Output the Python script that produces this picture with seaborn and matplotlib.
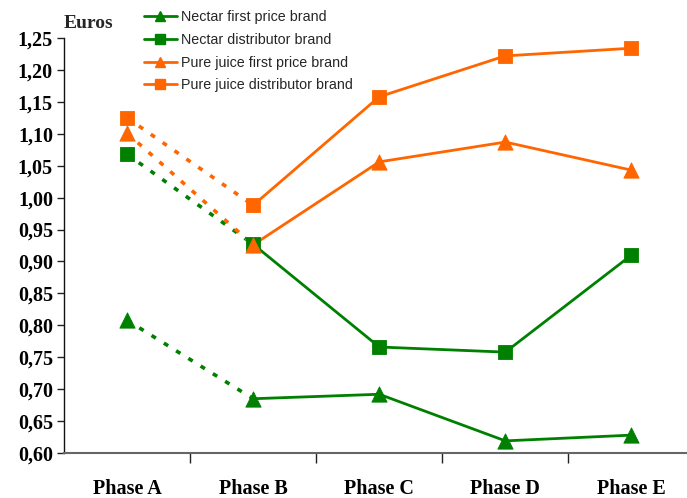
import matplotlib
matplotlib.use("Agg")
import matplotlib.pyplot as plt
from matplotlib.lines import Line2D
from matplotlib.ticker import FixedLocator, FuncFormatter
import seaborn as sns
import pandas as pd

phases = ["Phase A", "Phase B", "Phase C", "Phase D", "Phase E"]
nectar_first = [0.808, 0.685, 0.692, 0.619, 0.628]
nectar_distrib = [1.068, 0.927, 0.766, 0.758, 0.910]
juice_first = [1.101, 0.926, 1.056, 1.087, 1.043]
juice_distrib = [1.125, 0.988, 1.158, 1.222, 1.234]

series_names = ["Nectar first price brand", "Nectar distributor brand",
                "Pure juice first price brand", "Pure juice distributor brand"]
series_values = [nectar_first, nectar_distrib, juice_first, juice_distrib]

GREEN = "#008000"
ORANGE = "#FF6600"
colors = [GREEN, GREEN, ORANGE, ORANGE]
markers = ["^", "s", "^", "s"]
msizes = [11, 10, 11, 10]

sns.set_theme(style="white")
plt.rcParams["font.family"] = ["Liberation Serif", "DejaVu Serif"]

fig = plt.figure(figsize=(6.87, 4.98), dpi=100)
ax = fig.add_axes([64 / 687, 1 - 453 / 498, 630.5 / 687, 415 / 498])

for name, vals, c, m, ms in zip(series_names, series_values, colors, markers, msizes):
    df = pd.DataFrame({"phase": phases, "price": vals})
    # first interval is drawn dotted, the rest solid
    sns.lineplot(data=df.iloc[:2], x="phase", y="price", ax=ax, color=c,
                 linestyle=(0, (1.4, 2.6)), linewidth=2.6, sort=False,
                 dash_capstyle="butt")
    sns.lineplot(data=df.iloc[1:], x="phase", y="price", ax=ax, color=c,
                 linewidth=2.0, sort=False)
    sns.scatterplot(data=df, x="phase", y="price", ax=ax, color=c, marker=m,
                    s=ms ** 2, edgecolor=c, linewidth=0.6, zorder=5)

ax.set_xlim(-0.5, 4.5)
ax.set_ylim(0.60, 1.25)
ax.set_yticks([0.60 + 0.05 * i for i in range(14)])
ax.yaxis.set_major_formatter(FuncFormatter(lambda v, p: f"{v:.2f}".replace(".", ",")))
ax.set_xticks(range(5))
ax.set_xticklabels(phases)
ax.xaxis.set_minor_locator(FixedLocator([0.5, 1.5, 2.5, 3.5]))
ax.tick_params(axis="x", which="major", length=0, pad=19)
ax.tick_params(axis="x", which="minor", length=7, width=1, color="#222222", direction="out")
ax.tick_params(axis="y", which="major", length=5, width=1, color="#222222",
               direction="out", pad=3)
ax.tick_params(left=True, bottom=True, which="both")
for lab in ax.get_yticklabels():
    lab.set_fontsize(14.5)
    lab.set_fontweight("bold")
    lab.set_color("black")
for lab in ax.get_xticklabels():
    lab.set_fontsize(14.5)
    lab.set_fontweight("bold")
    lab.set_color("black")
ax.set_xlabel("")
ax.set_ylabel("")
sns.despine(ax=ax)
ax.spines["left"].set_color("#111111")
ax.spines["bottom"].set_color("#666666")
ax.spines["left"].set_linewidth(1.0)
ax.spines["bottom"].set_linewidth(1.5)
ax.grid(False)

fig.text(64 / 687, 1 - 23 / 498, "Euros", fontsize=14, fontweight="bold",
         va="center", ha="left")

handles = [Line2D([0], [0], color=c, marker=m, markersize=7, linewidth=2)
           for c, m in zip(colors, markers)]
leg = fig.legend(handles, series_names, loc="upper left",
                 bbox_to_anchor=(131 / 687, 1 + 3 / 498), frameon=False,
                 handlelength=2.3, handletextpad=0.3, labelspacing=0.62,
                 prop={"family": "Liberation Sans", "size": 10.3})

fig.savefig("out.png", dpi=100)
